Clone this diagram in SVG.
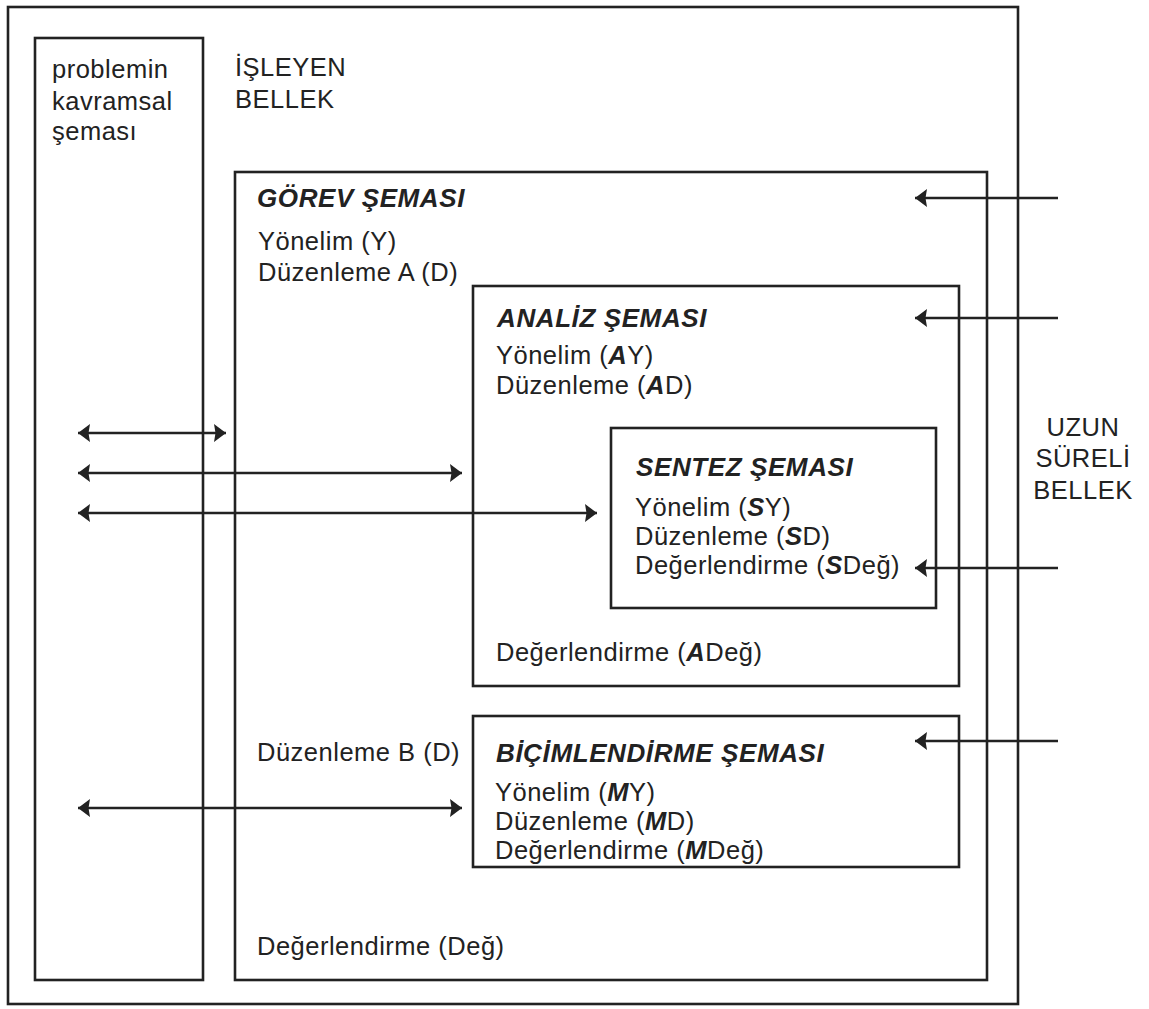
<svg xmlns="http://www.w3.org/2000/svg" width="1149" height="1009" viewBox="0 0 1149 1009">
<style>
.box{fill:none;stroke:#222;stroke-width:2.6}
.ln{stroke:#222;stroke-width:2.6;fill:none}
text{font-family:"Liberation Sans",Arial,sans-serif;font-size:25.5px;fill:#222;letter-spacing:0.5px}
.h{font-weight:bold;font-style:italic;font-size:26px;letter-spacing:0.6px}
.b{font-weight:bold;font-style:italic}
.c{text-anchor:middle}
</style>
<defs>
<marker id="ah" markerUnits="userSpaceOnUse" markerWidth="14" markerHeight="20" viewBox="0 -10 14 20" refX="12" refY="0" orient="auto-start-reverse">
<path d="M12,0 L0,-9 L1.5,0 L0,9 Z" fill="#222"/>
</marker>
</defs>
<rect width="1149" height="1009" fill="#fff"/>
<g id="outer">
<rect class="box" x="8" y="7" width="1010" height="997"/>
<text x="235" y="76">İŞLEYEN</text>
<text x="235" y="108">BELLEK</text>
</g>
<g id="ltm">
<text class="c" x="1083" y="436">UZUN</text>
<text class="c" x="1083" y="467">SÜRELİ</text>
<text class="c" x="1083" y="499">BELLEK</text>
</g>
<g id="kavramsal">
<rect class="box" x="35" y="38" width="168" height="942"/>
<text x="52" y="78">problemin</text>
<text x="52" y="110">kavramsal</text>
<text x="52" y="140">şeması</text>
</g>
<g id="gorev">
<rect class="box" x="235" y="172" width="752" height="808"/>
<text class="h" x="257" y="207">GÖREV ŞEMASI</text>
<text x="258" y="250">Yönelim (Y)</text>
<text x="258" y="281">Düzenleme A (D)</text>
<text x="257" y="761">Düzenleme B (D)</text>
<text x="257" y="955">Değerlendirme (Değ)</text>
</g>
<g id="analiz">
<rect class="box" x="473" y="286" width="486" height="400"/>
<text class="h" x="497" y="327">ANALİZ ŞEMASI</text>
<text x="496" y="364">Yönelim (<tspan class="b">A</tspan>Y)</text>
<text x="496" y="394">Düzenleme (<tspan class="b">A</tspan>D)</text>
<text x="496" y="661">Değerlendirme (<tspan class="b">A</tspan>Değ)</text>
</g>
<g id="sentez">
<rect class="box" x="611" y="428" width="325" height="180"/>
<text class="h" x="636" y="476">SENTEZ ŞEMASI</text>
<text x="635" y="516">Yönelim (<tspan class="b">S</tspan>Y)</text>
<text x="635" y="545">Düzenleme (<tspan class="b">S</tspan>D)</text>
<text x="635" y="574">Değerlendirme (<tspan class="b">S</tspan>Değ)</text>
</g>
<g id="bicimlendirme">
<rect class="box" x="473" y="716" width="486" height="151"/>
<text class="h" x="496" y="762">BİÇİMLENDİRME ŞEMASI</text>
<text x="495" y="801">Yönelim (<tspan class="b">M</tspan>Y)</text>
<text x="495" y="830">Düzenleme (<tspan class="b">M</tspan>D)</text>
<text x="495" y="859">Değerlendirme (<tspan class="b">M</tspan>Değ)</text>
</g>
<g id="connectors">
<line class="ln" x1="1058" y1="198" x2="915" y2="198" marker-end="url(#ah)"/>
<line class="ln" x1="1058" y1="318" x2="915" y2="318" marker-end="url(#ah)"/>
<line class="ln" x1="1058" y1="568" x2="915" y2="568" marker-end="url(#ah)"/>
<line class="ln" x1="1058" y1="741" x2="915" y2="741" marker-end="url(#ah)"/>
<line class="ln" x1="78" y1="433" x2="226" y2="433" marker-start="url(#ah)" marker-end="url(#ah)"/>
<line class="ln" x1="78" y1="473" x2="462" y2="473" marker-start="url(#ah)" marker-end="url(#ah)"/>
<line class="ln" x1="78" y1="513" x2="597" y2="513" marker-start="url(#ah)" marker-end="url(#ah)"/>
<line class="ln" x1="78" y1="808" x2="462" y2="808" marker-start="url(#ah)" marker-end="url(#ah)"/>
</g>
</svg>
